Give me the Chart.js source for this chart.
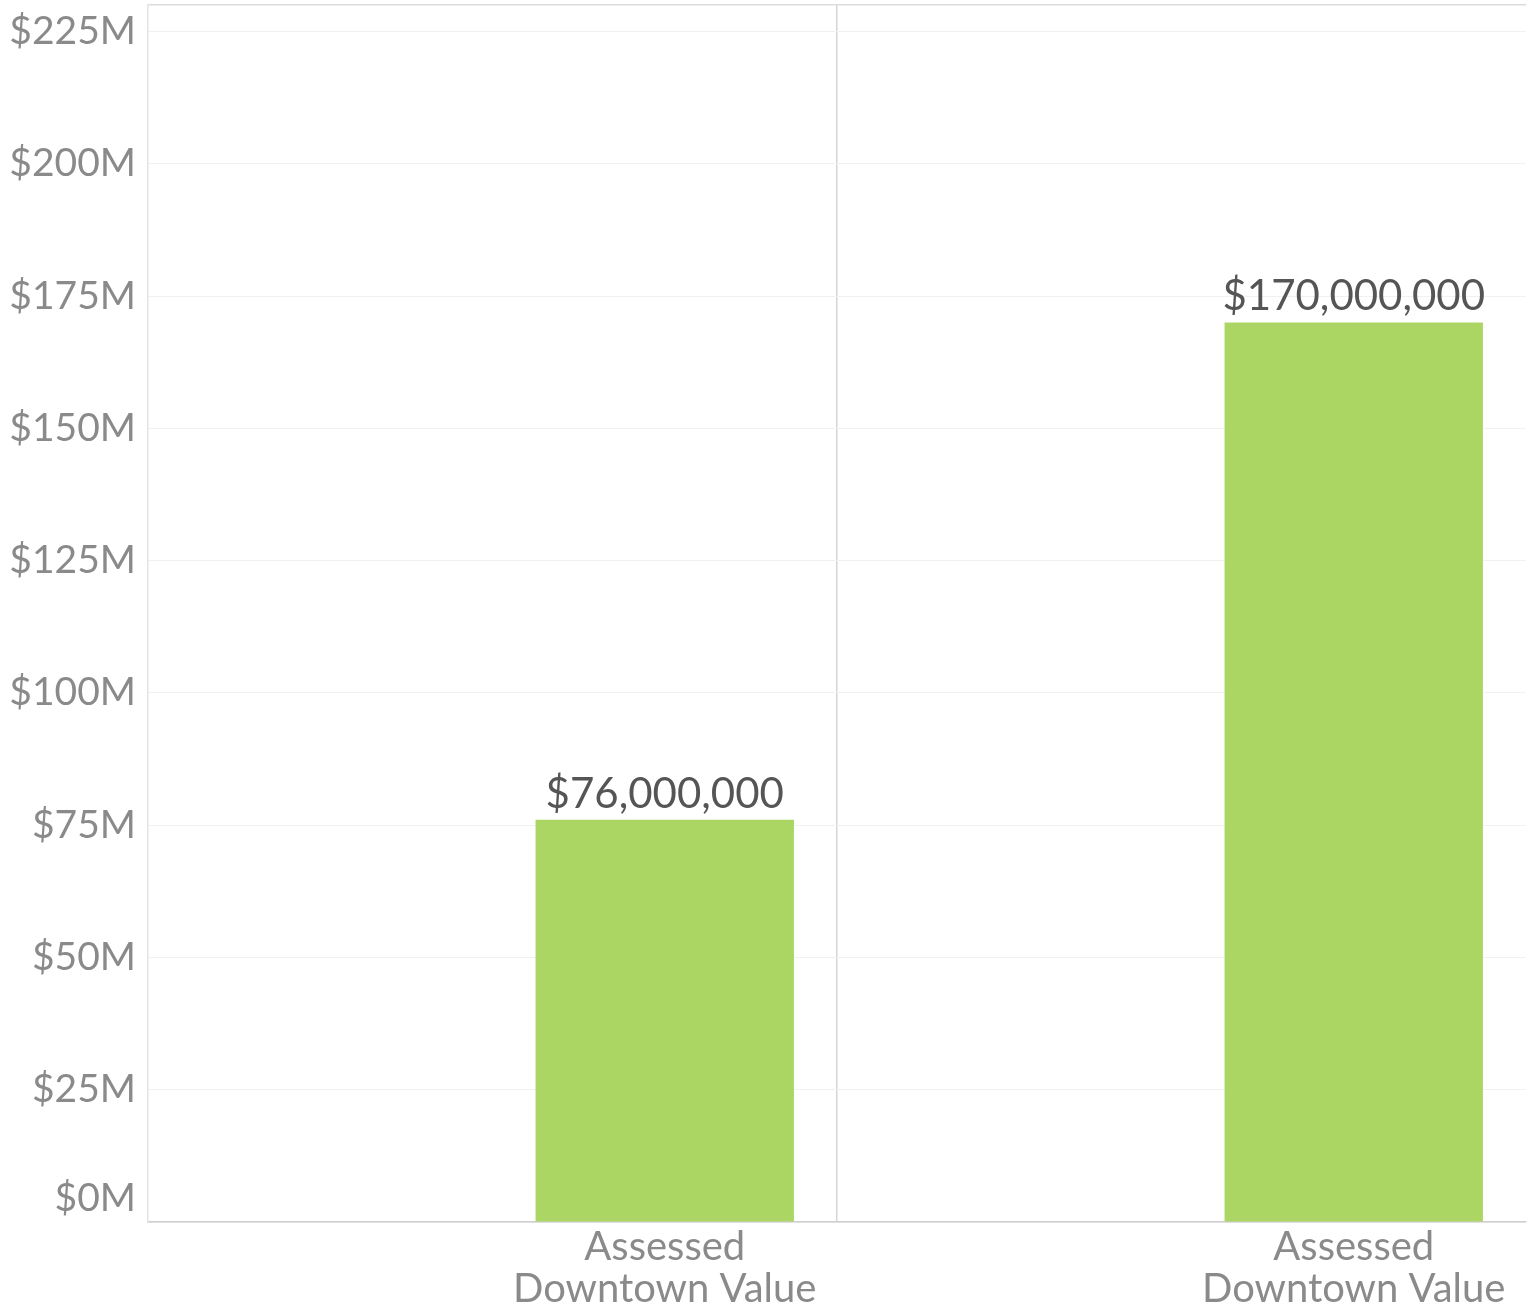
<!DOCTYPE html>
<html lang="en">
<head>
    <meta charset="UTF-8">
    <title>Assessed Downtown Value</title>
    <script src="https://cdn.jsdelivr.net/npm/chart.js"></script>
    <style>
        html, body {
            margin: 0;
            padding: 0;
            background: #ffffff;
        }
        .chart-box {
            width: 1537px;
            height: 1304px;
            position: relative;
        }
    </style>
</head>
<body>
    <div class="chart-box">
        <canvas id="valueChart"></canvas>
    </div>

    <script>
        // each panel has an empty slot on the left and the bar on the right
        const categories = ['', ['Assessed', 'Downtown Value'], '', ['Assessed', 'Downtown Value']];
        const assessedValues = [null, 76000000, null, 170000000];
        const yTicks = [0, 25, 50, 75, 100, 125, 150, 175, 200, 225]; // millions
        const yMax = 230; // millions, top edge of the plot

        const FONT = 'Lato, "Open Sans", sans-serif';

        // value labels above each bar
        const valueLabels = {
            id: 'valueLabels',
            afterDatasetsDraw(chart) {
                const ctx = chart.ctx;
                const meta = chart.getDatasetMeta(0);
                ctx.save();
                ctx.font = '42px ' + FONT;
                ctx.fillStyle = '#555555';
                ctx.textAlign = 'center';
                ctx.textBaseline = 'alphabetic';
                meta.data.forEach((bar, i) => {
                    const v = assessedValues[i];
                    if (v === null) return;
                    ctx.fillText('$' + v.toLocaleString('en-US'), bar.x, bar.y - 12);
                });
                ctx.restore();
            }
        };

        function initChart() {
            const ctx = document.getElementById('valueChart').getContext('2d');
            new Chart(ctx, {
                type: 'bar',
                data: {
                    labels: categories,
                    datasets: [{
                        data: assessedValues,
                        backgroundColor: '#acd663',
                        categoryPercentage: 1.0,
                        barPercentage: 0.75
                    }]
                },
                options: {
                    responsive: true,
                    maintainAspectRatio: false,
                    animation: false,
                    events: [],
                    layout: { padding: { top: 5, right: 11, left: 0, bottom: 0 } },
                    plugins: {
                        legend: { display: false },
                        tooltip: { enabled: false }
                    },
                    scales: {
                        x: {
                            grid: {
                                offset: true,
                                drawTicks: false,
                                color: (c) => (c.index === 2 || c.index === 4) ? '#d6d6d6' : 'rgba(0,0,0,0)',
                                lineWidth: 1.5
                            },
                            border: { color: '#cfcfcf', width: 1.5 },
                            ticks: {
                                color: '#8a8a8a',
                                font: { family: FONT, size: 40, lineHeight: 1.05 },
                                padding: 4,
                                maxRotation: 0,
                                autoSkip: false
                            },
                            afterFit: (scale) => { scale.height = 82; }
                        },
                        y: {
                            min: 0,
                            max: yMax * 1e6,
                            afterBuildTicks: (scale) => {
                                scale.ticks = yTicks.map(v => ({ value: v * 1e6 })).concat([{ value: yMax * 1e6 }]);
                            },
                            grid: {
                                drawTicks: false,
                                color: (c) => (c.tick && c.tick.value === yMax * 1e6) ? '#dcdcdc' : '#f1f1f1',
                                lineWidth: (c) => (c.tick && c.tick.value === yMax * 1e6) ? 1.5 : 1
                            },
                            border: { color: '#e3e3e3', width: 1.5 },
                            ticks: {
                                color: '#8a8a8a',
                                font: { family: FONT, size: 39, lineHeight: 1.2 },
                                padding: 12,
                                callback: (value) => {
                                    const m = value / 1e6;
                                    if (!yTicks.includes(m)) return '';
                                    // keep the bottom label above the axis line
                                    return m === 0 ? ['$0M', ''] : '$' + m + 'M';
                                }
                            },
                            afterFit: (scale) => {
                                scale.width = 148;
                                scale.paddingTop = 0;
                                scale.paddingBottom = 0;
                            }
                        }
                    }
                },
                plugins: [valueLabels]
            });
        }

        document.addEventListener('DOMContentLoaded', function() {
            initChart();
        });
    </script>
</body>
</html>
